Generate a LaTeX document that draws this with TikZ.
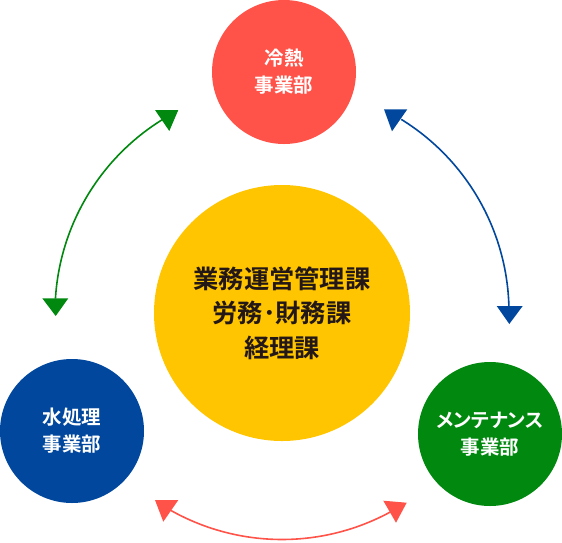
\documentclass[tikz,border=0pt]{standalone}
\usepackage{fontspec}
\usetikzlibrary{calc}
\newfontfamily\cjk[BoldFont={Noto Sans CJK JP Bold}]{Noto Sans CJK JP}
\definecolor{cred}{HTML}{FF5349}
\definecolor{cblue}{HTML}{00479D}
\definecolor{cgreen}{HTML}{00880F}
\definecolor{cyellow}{HTML}{FFC500}
\definecolor{ctext}{HTML}{231815}
\tikzset{
  dept/.style={circle,minimum size=144pt,inner sep=0pt,text=white,align=center,font=\cjk\bfseries\fontsize{19.5}{27}\selectfont},
  core/.style={circle,fill=cyellow,minimum size=256pt,inner sep=0pt,text=ctext,align=center,font=\cjk\bfseries\fontsize{25.3}{34.5}\selectfont},
  link/.style={line width=1.6pt},
}
\begin{document}
\begin{tikzpicture}[x=1pt,y=-1pt]
\useasboundingbox (0,0) rectangle (562,542);
\coordinate (c) at (282,312.5);
\node[core] (center) at (282,313) {業務運営管理課\\労務･財務課\\経理課};
\node[dept,fill=cred] (reinetsu) at (284,72) {冷熱\\事業部};
\node[dept,fill=cblue] (water) at (72,431) {水処理\\事業部};
\node[dept,fill=cgreen] (maint) at (490,434) {{\addfontfeatures{RawFeature=+palt}メンテナンス}\\事業部};
% arc end points
\coordinate (g1) at ($(c)+(-121.8:227)$);
\coordinate (b1) at ($(c)+(-58.3:227)$);
\coordinate (r1) at ($(c)+(119.3:227)$);
% arcs
\draw[link,cgreen] (g1) arc[start angle=-121.8,end angle=-176.5,radius=227] coordinate (g2);
\draw[link,cblue] (b1) arc[start angle=-58.3,end angle=-1.5,radius=227] coordinate (b2);
\draw[link,cred] (r1) arc[start angle=119.3,end angle=61.1,radius=227] coordinate (r2);
% arrowheads
\fill[cgreen] (155,110) -- (178.3,110) -- (169.3,131) -- cycle;
\fill[cgreen] (42.3,298.3) -- (68.3,298.3) -- (55.7,316) -- cycle;
\fill[cblue] (384,109.3) -- (407.3,109.3) -- (392,131.3) -- cycle;
\fill[cblue] (496.7,306) -- (522.7,306) -- (509.3,324) -- cycle;
\fill[cred] (155,500) -- (178.3,500) -- (163.3,521.7) -- cycle;
\fill[cred] (383.3,500.7) -- (406.7,502.7) -- (396,522.7) -- cycle;
\end{tikzpicture}
\end{document}
